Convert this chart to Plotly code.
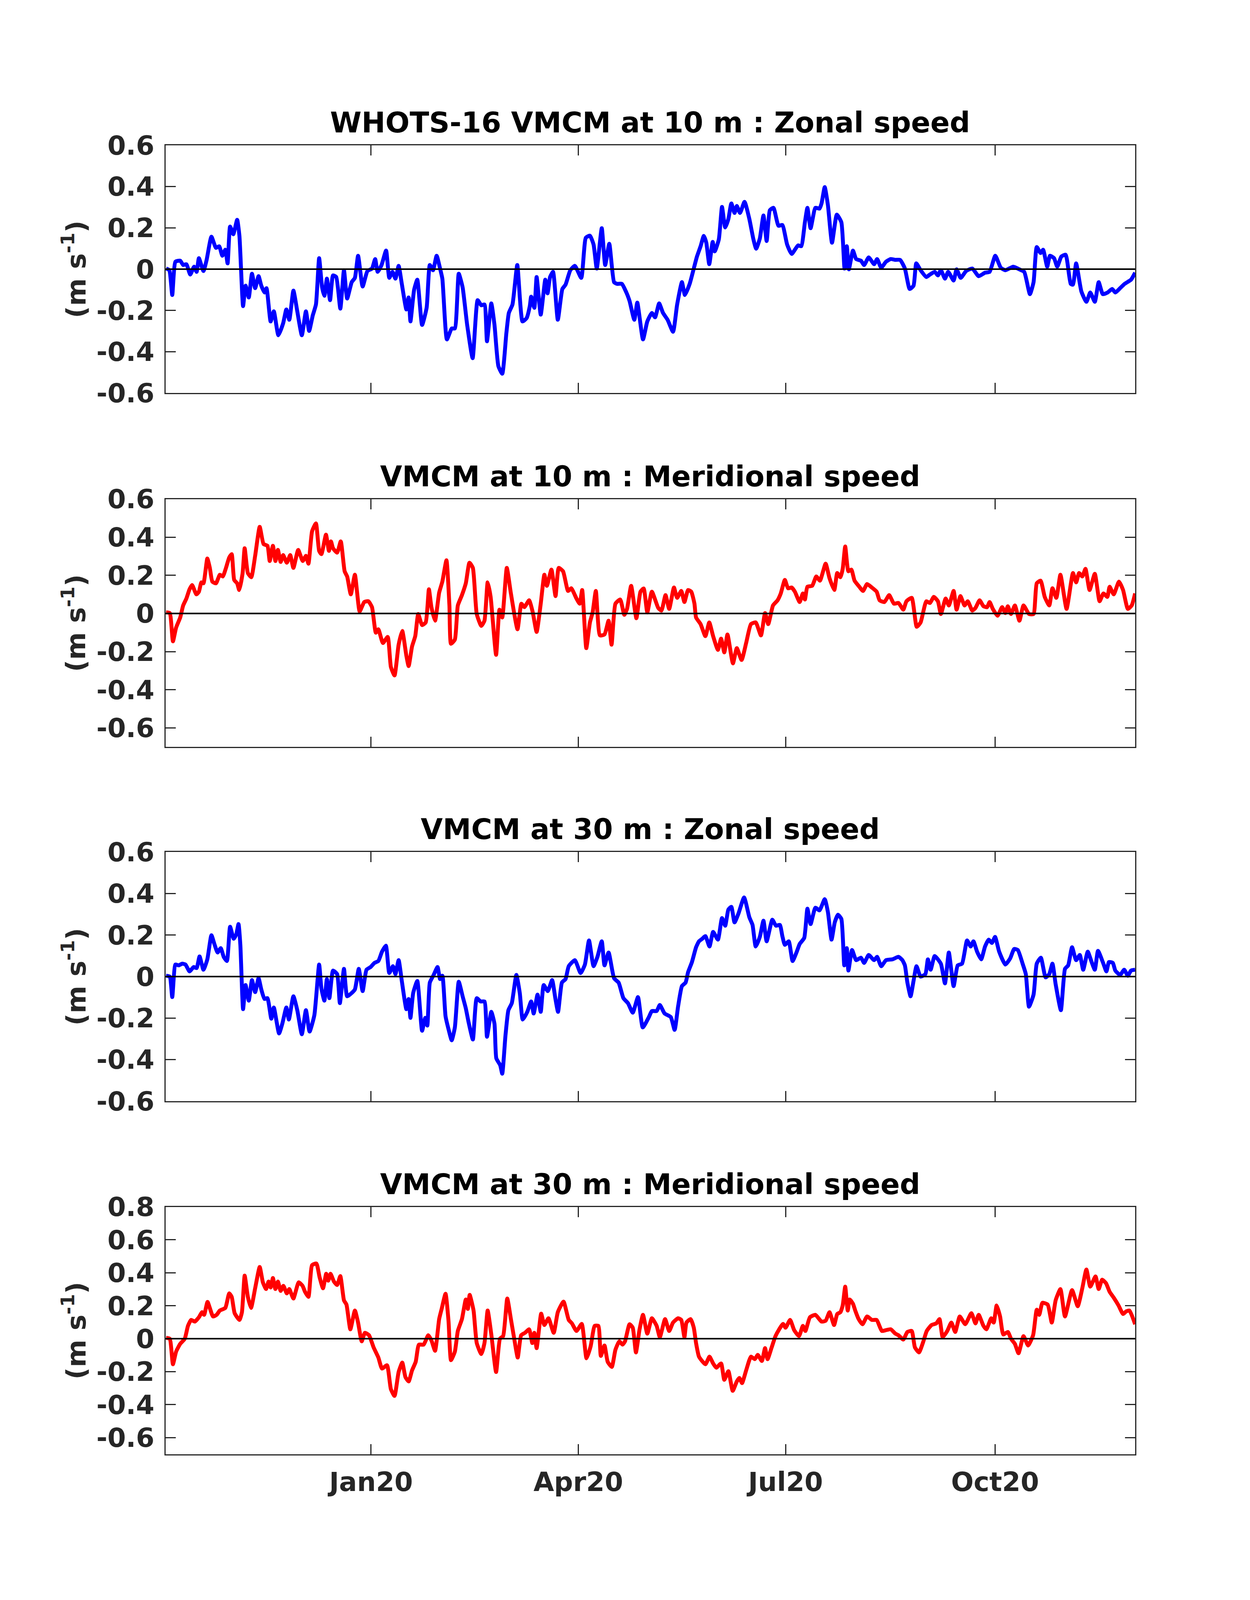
import pandas as pd
import plotly.graph_objects as go

# time axis: days after 2019-10-03
start = pd.Timestamp("2019-10-03")

# --- 10 m zonal speed (m/s)
u10_day = [0, 1.4, 2.7, 4.1, 6.2, 7.5, 8.9, 10.6, 12.3, 13.4, 14.4, 16.4, 17.8, 19.9, 21.9, 23.3, 24.7, 26.0, 27.0, 28.1,
           29.5, 31.2, 32.2, 33.8, 34.9, 36.3, 37.7, 39.1, 40.6, 41.8, 43.2, 44.1, 45.9, 47.3, 49.3, 51.4, 52.8, 54.1, 55.9, 57.6,
           59.6, 61.4, 62.8, 64.4, 65.8, 67.2, 68.5, 69.5, 70.6, 72.0, 73.3, 74.7, 76.5, 78.1, 79.5, 81.5, 82.9, 84.3, 86.3, 88.4,
           90.4, 91.8, 92.9, 94.6, 96.6, 98.0, 99.4, 100.7, 102.1, 103.5, 105.5, 106.5, 107.3, 108.9, 110.3, 112.4, 114.4, 115.8, 117.2, 118.8,
           120.3, 121.3, 123.3, 125.4, 126.8, 128.5, 130.2, 132.2, 134.6, 136.8, 138.4, 139.8, 140.9, 142.8, 144.2, 145.9, 147.6, 149.4, 150.5, 152.1,
           154.2, 156.5, 158.3, 159.7, 160.3, 161.7, 162.7, 164.5, 166.5, 167.5, 168.6, 169.9, 172.0, 174.0, 175.4, 177.5, 179.5, 182.3, 184.3, 186.1,
           187.7, 189.1, 191.3, 192.8, 194.6, 196.7, 198.0, 200.1, 202.1, 203.5, 205.6, 206.9, 209.4, 211.3, 213.3, 214.7, 216.5, 218.2, 220.2, 222.6,
           224.4, 226.5, 227.8, 229.9, 231.7, 233.1, 234.7, 236.1, 237.2, 238.5, 240.0, 240.9, 242.7, 244.1, 245.5, 246.9, 248.2, 249.6, 250.6, 252.0,
           254.0, 256.1, 257.9, 259.1, 260.7, 262.3, 263.7, 265.1, 266.7, 268.9, 270.6, 272.7, 274.7, 277.5, 278.9, 280.5, 281.6, 283.0, 285.1, 286.9,
           287.8, 289.2, 290.6, 292.4, 294.5, 296.5, 297.9, 298.9, 299.8, 301.6, 303.0, 305.1, 306.5, 308.5, 310.9, 312.2, 314.0, 316.1, 318.2, 320.2,
           322.3, 324.4, 326.5, 328.2, 329.4, 331.3, 333.8, 335.4, 337.5, 338.9, 340.2, 342.0, 343.4, 345.8, 347.1, 348.9, 351.3, 354.0, 356.8, 359.6,
           361.6, 364.1, 366.5, 368.5, 372.0, 374.7, 376.8, 379.3, 380.9, 382.3, 384.0, 385.1, 386.9, 388.1, 389.9, 391.3, 393.1, 395.0, 397.2, 398.2,
           399.6, 401.9, 404.1, 405.8, 407.8, 409.5, 411.3, 413.4, 415.4, 416.8, 418.9, 420.9, 423.7, 425.5]
u10_val = [0.003, -0.005, -0.125, 0.036, 0.041, 0.02, 0.024, -0.026, 0.012, -0.013, 0.053, -0.009, 0.045, 0.157, 0.103, 0.111, 0.065, 0.094, 0.028, 0.206,
           0.169, 0.239, 0.161, -0.179, -0.08, -0.137, -0.022, -0.092, -0.034, -0.08, -0.113, -0.092, -0.253, -0.204, -0.32, -0.262, -0.195, -0.245, -0.104, -0.204,
           -0.32, -0.204, -0.299, -0.224, -0.171, 0.053, -0.088, -0.129, -0.046, -0.15, -0.03, -0.038, -0.191, -0.005, -0.142, -0.063, -0.042, 0.065, -0.084, -0.009,
           0.003, 0.049, -0.013, 0.02, 0.09, -0.042, -0.013, -0.046, 0.016, -0.071, -0.195, -0.137, -0.253, -0.1, -0.051, -0.27, -0.187, 0.02, -0.005, 0.065,
           0.003, -0.046, -0.34, -0.287, -0.287, -0.022, -0.088, -0.27, -0.431, -0.15, -0.175, -0.171, -0.349, -0.166, -0.27, -0.469, -0.506, -0.311, -0.212, -0.171,
           0.02, -0.253, -0.237, -0.179, -0.133, -0.187, -0.038, -0.22, -0.051, -0.117, -0.038, -0.013, -0.245, -0.096, -0.075, -0.005, 0.016, -0.042, 0.152, 0.162,
           0.119, 0.003, 0.198, 0.02, 0.123, -0.063, -0.071, -0.071, -0.113, -0.154, -0.245, -0.162, -0.34, -0.253, -0.212, -0.233, -0.166, -0.212, -0.245, -0.303,
           -0.171, -0.063, -0.125, -0.071, 0.003, 0.061, 0.111, 0.161, 0.128, 0.024, 0.132, 0.086, 0.144, 0.301, 0.202, 0.243, 0.318, 0.272, 0.306, 0.272,
           0.326, 0.243, 0.144, 0.099, 0.148, 0.26, 0.136, 0.285, 0.297, 0.21, 0.214, 0.119, 0.074, 0.115, 0.111, 0.227, 0.297, 0.198, 0.297, 0.293,
           0.318, 0.397, 0.31, 0.128, 0.264, 0.227, 0.003, 0.111, -0.001, 0.09, 0.049, 0.041, 0.02, 0.057, 0.024, 0.049, 0.007, 0.036, 0.049, 0.045,
           0.045, 0.003, -0.096, -0.08, 0.028, -0.005, -0.038, -0.026, -0.013, -0.03, -0.005, -0.046, -0.013, -0.055, -0.001, -0.042, -0.009, 0.003, -0.034, -0.017,
           -0.013, 0.065, 0.007, -0.005, 0.012, -0.001, -0.013, -0.121, -0.063, 0.107, 0.078, 0.094, 0.012, 0.065, 0.053, 0.012, 0.061, 0.07, -0.071, -0.075,
           0.028, -0.108, -0.158, -0.113, -0.158, -0.063, -0.121, -0.113, -0.096, -0.113, -0.092, -0.071, -0.051, -0.017]

# --- 10 m meridional speed (m/s)
v10_day = [0, 1.6, 3.0, 4.4, 6.2, 7.5, 8.9, 10.3, 11.4, 13.3, 14.4, 15.5, 16.4, 18.1, 19.2, 20.3, 21.9, 23.6, 24.9, 26.3,
           27.7, 28.8, 29.9, 31.2, 32.1, 33.6, 34.5, 35.9, 37.4, 39.1, 41.1, 42.8, 44.5, 45.5, 46.9, 48.0, 49.1, 50.3, 51.4, 53.0,
           54.5, 55.9, 58.0, 60.0, 61.4, 62.5, 64.1, 65.8, 67.2, 68.2, 70.2, 71.5, 72.4, 73.3, 75.1, 76.7, 78.4, 79.5, 81.1, 82.9,
           85.0, 87.0, 88.8, 90.4, 92.1, 93.2, 95.2, 97.3, 98.7, 100.3, 102.1, 103.7, 105.5, 106.5, 108.0, 109.4, 110.7, 112.4, 114.0, 115.4,
           116.5, 118.1, 119.9, 121.3, 123.1, 124.4, 125.1, 126.8, 128.1, 129.9, 131.6, 133.2, 134.7, 136.4, 138.4, 139.8, 141.2, 142.5, 144.9, 146.4,
           147.6, 149.6, 151.4, 154.3, 156.0, 157.3, 159.4, 161.0, 162.7, 164.5, 166.1, 167.2, 169.2, 171.0, 172.4, 174.3, 176.5, 177.9, 180.2, 181.6,
           182.7, 184.5, 186.1, 187.3, 188.7, 190.5, 192.5, 194.3, 195.6, 197.3, 199.4, 201.2, 202.4, 204.2, 206.5, 208.3, 209.7, 211.3, 213.3, 216.1,
           217.5, 219.3, 220.9, 223.0, 224.4, 226.2, 227.6, 229.2, 230.6, 232.0, 232.7, 234.7, 236.8, 238.5, 240.2, 242.3, 243.7, 245.1, 246.5, 248.9,
           250.6, 252.7, 254.7, 256.8, 258.9, 261.2, 263.0, 264.4, 266.5, 268.5, 269.9, 271.7, 273.1, 274.7, 276.1, 278.2, 279.6, 280.5, 281.6, 283.7,
           285.5, 287.1, 289.6, 291.3, 293.4, 294.7, 296.1, 297.1, 298.2, 299.6, 300.9, 302.3, 304.4, 306.0, 307.8, 309.9, 312.0, 313.3, 315.4, 317.5,
           319.6, 321.6, 323.7, 325.1, 327.4, 329.6, 331.3, 333.8, 335.4, 337.1, 338.9, 340.2, 342.3, 343.7, 345.8, 347.1, 348.8, 350.6, 352.0, 354.0,
           355.4, 357.2, 358.9, 360.5, 361.6, 363.0, 365.1, 367.1, 368.5, 369.6, 371.0, 372.7, 374.7, 376.5, 378.9, 380.9, 382.3, 384.0, 385.8, 387.8,
           389.2, 390.9, 392.7, 395.4, 398.2, 399.6, 400.9, 402.3, 403.7, 405.5, 407.8, 409.9, 411.6, 413.3, 414.3, 416.1, 418.4, 420.2, 422.3, 424.0,
           425.5]
v10_val = [0.006, 0.002, -0.146, -0.074, -0.021, 0.042, 0.078, 0.127, 0.149, 0.1, 0.114, 0.163, 0.158, 0.288, 0.239, 0.167, 0.158, 0.203, 0.194, 0.239,
           0.293, 0.311, 0.176, 0.158, 0.123, 0.212, 0.342, 0.212, 0.19, 0.302, 0.454, 0.364, 0.355, 0.275, 0.355, 0.275, 0.333, 0.27, 0.306, 0.266,
           0.306, 0.239, 0.333, 0.275, 0.302, 0.261, 0.431, 0.472, 0.328, 0.311, 0.413, 0.328, 0.378, 0.342, 0.319, 0.378, 0.221, 0.194, 0.1, 0.203,
           0.011, 0.06, 0.064, 0.033, -0.101, -0.083, -0.155, -0.123, -0.28, -0.325, -0.164, -0.092, -0.222, -0.276, -0.173, -0.119, -0.003, -0.061, -0.047, 0.127,
           0.033, -0.038, 0.109, 0.167, 0.279, 0.042, -0.159, -0.137, 0.042, 0.096, 0.158, 0.266, 0.239, -0.003, -0.065, -0.038, 0.163, 0.087, -0.217, 0.02,
           -0.021, 0.239, 0.105, -0.083, 0.051, 0.033, 0.069, 0.006, -0.097, 0.051, 0.203, 0.145, 0.23, 0.091, 0.239, 0.221, 0.118, 0.132, 0.078, 0.051,
           0.123, -0.182, -0.047, 0.006, 0.118, -0.115, -0.11, -0.038, -0.164, 0.051, 0.073, -0.007, 0.024, 0.145, -0.025, 0.114, 0.131, 0.006, 0.114, 0.029,
           0.015, 0.096, 0.024, 0.136, 0.082, 0.118, 0.06, 0.123, 0.114, 0.051, -0.021, -0.056, -0.119, -0.047, -0.119, -0.191, -0.132, -0.204, -0.11, -0.262,
           -0.182, -0.244, -0.155, -0.056, -0.047, -0.115, 0.002, -0.056, 0.042, 0.069, 0.105, 0.176, 0.132, 0.136, 0.114, 0.06, 0.105, 0.073, 0.14, 0.145,
           0.194, 0.172, 0.261, 0.185, 0.123, 0.212, 0.19, 0.234, 0.351, 0.221, 0.23, 0.172, 0.14, 0.118, 0.154, 0.136, 0.114, 0.069, 0.06, 0.096,
           0.051, 0.055, 0.02, 0.064, 0.082, -0.07, -0.047, 0.064, 0.055, 0.087, 0.064, -0.003, 0.078, 0.042, 0.118, 0.02, 0.091, 0.042, 0.064, 0.015,
           0.029, 0.069, 0.038, 0.033, 0.06, 0.024, -0.012, 0.033, 0.002, 0.038, -0.003, 0.042, -0.038, 0.042, -0.003, -0.003, 0.158, 0.172, 0.087, 0.042,
           0.132, 0.082, 0.203, 0.024, 0.212, 0.163, 0.212, 0.194, 0.234, 0.123, 0.208, 0.064, 0.105, 0.087, 0.14, 0.1, 0.167, 0.123, 0.024, 0.042,
           0.105]

# --- 30 m zonal speed (m/s)
u30_day = [0, 1.6, 2.7, 4.1, 5.5, 7.1, 8.5, 10.3, 12.1, 13.4, 14.7, 16.4, 18.1, 19.9, 21.2, 22.6, 24.0, 25.3, 26.7, 28.1,
           29.7, 30.8, 31.8, 32.6, 33.8, 34.9, 36.3, 37.7, 39.1, 40.6, 41.8, 43.2, 44.5, 46.2, 47.3, 49.6, 51.1, 52.8, 53.9, 55.9,
           57.6, 59.6, 61.4, 63.0, 65.1, 67.2, 68.2, 69.5, 70.6, 71.7, 73.3, 75.1, 76.3, 78.1, 79.5, 81.5, 82.9, 84.6, 86.3, 88.0,
           89.8, 91.5, 93.2, 94.8, 96.5, 98.0, 99.6, 100.7, 102.1, 103.5, 105.5, 106.5, 107.3, 108.5, 110.3, 112.4, 113.8, 114.7, 115.8, 117.5,
           119.2, 120.3, 121.3, 122.7, 124.0, 125.4, 126.8, 128.5, 130.2, 131.6, 132.9, 134.7, 136.4, 138.1, 139.8, 140.9, 142.8, 144.2, 145.0, 146.7,
           147.6, 149.0, 150.3, 151.8, 153.8, 155.3, 156.6, 158.6, 160.3, 161.4, 163.1, 164.5, 165.8, 167.6, 169.5, 170.9, 172.1, 173.8, 175.4, 176.8,
           179.5, 182.0, 183.9, 185.7, 187.7, 189.4, 191.3, 192.5, 194.3, 196.7, 198.7, 200.8, 202.8, 204.9, 207.2, 209.3, 212.0, 213.3, 215.4, 216.8,
           218.9, 221.6, 223.3, 224.8, 226.5, 228.1, 229.2, 230.9, 232.7, 234.0, 235.4, 236.8, 238.6, 240.2, 242.3, 244.1, 245.5, 246.9, 248.2, 249.6,
           251.3, 253.8, 256.1, 257.5, 258.9, 260.7, 262.3, 263.7, 266.2, 267.8, 269.5, 270.6, 271.7, 273.4, 275.1, 276.8, 278.2, 280.2, 281.6, 283.0,
           285.1, 286.9, 289.2, 290.6, 292.2, 293.6, 295.0, 296.5, 297.8, 298.9, 299.6, 301.2, 303.0, 305.1, 306.5, 308.5, 310.9, 312.2, 314.0, 316.1,
           318.9, 321.6, 323.3, 324.4, 325.5, 326.9, 328.2, 329.5, 331.3, 333.4, 334.5, 335.7, 337.5, 340.2, 342.0, 343.7, 345.8, 347.6, 349.5, 351.7,
           353.3, 354.5, 356.1, 357.9, 359.6, 361.2, 362.6, 364.0, 365.8, 368.5, 370.6, 372.4, 374.0, 376.1, 377.5, 378.9, 380.9, 382.3, 384.1, 386.2,
           387.8, 389.2, 390.6, 392.9, 394.7, 396.1, 397.8, 399.6, 401.2, 402.7, 404.7, 406.4, 407.8, 409.2, 411.3, 412.9, 414.0, 415.7, 416.8, 418.9,
           420.7, 422.3, 423.7, 425.5]
u30_val = [0.004, 0, -0.099, 0.058, 0.054, 0.062, 0.058, 0.025, 0.046, 0.041, 0.097, 0.033, 0.083, 0.199, 0.157, 0.116, 0.137, 0.095, 0.075, 0.24,
           0.182, 0.203, 0.253, 0.153, -0.157, -0.041, -0.116, -0.017, -0.075, -0.008, -0.062, -0.108, -0.104, -0.203, -0.149, -0.274, -0.224, -0.149, -0.207, -0.095,
           -0.162, -0.278, -0.162, -0.265, -0.186, 0.058, -0.058, -0.116, -0.012, -0.104, 0.029, 0.012, -0.128, 0.037, -0.095, -0.079, -0.062, 0.037, -0.07, 0.033,
           0.046, 0.066, 0.075, 0.12, 0.149, 0.017, 0.05, 0.012, 0.079, -0.021, -0.157, -0.108, -0.199, -0.079, -0.021, -0.261, -0.199, -0.236, -0.029, 0.008,
           0.046, -0.012, 0.004, -0.191, -0.253, -0.307, -0.245, -0.025, -0.095, -0.153, -0.224, -0.303, -0.104, -0.12, -0.12, -0.29, -0.17, -0.228, -0.394, -0.427,
           -0.468, -0.286, -0.162, -0.128, 0.008, -0.079, -0.207, -0.17, -0.12, -0.178, -0.087, -0.17, -0.041, -0.07, -0.017, -0.104, -0.17, -0.029, -0.012, 0.05,
           0.079, 0.017, 0.058, 0.174, 0.05, 0.095, 0.17, 0.054, 0.116, -0.008, -0.029, -0.104, -0.128, -0.174, -0.099, -0.245, -0.195, -0.166, -0.166, -0.137,
           -0.178, -0.195, -0.257, -0.145, -0.046, -0.029, 0.021, 0.07, 0.141, 0.17, 0.182, 0.195, 0.145, 0.215, 0.178, 0.282, 0.245, 0.323, 0.336, 0.261,
           0.303, 0.381, 0.286, 0.249, 0.145, 0.191, 0.269, 0.17, 0.274, 0.245, 0.249, 0.195, 0.153, 0.17, 0.075, 0.116, 0.157, 0.186, 0.327, 0.253,
           0.332, 0.319, 0.373, 0.311, 0.178, 0.261, 0.298, 0.278, 0.054, 0.137, 0.029, 0.128, 0.079, 0.091, 0.066, 0.104, 0.079, 0.095, 0.05, 0.079,
           0.083, 0.095, 0.079, 0.054, -0.029, -0.095, -0.021, 0.05, 0, 0.012, 0.083, 0.033, 0.099, 0.062, -0.033, 0.116, -0.046, 0.054, 0.062, 0.174,
           0.145, 0.17, 0.12, 0.083, 0.145, 0.178, 0.162, 0.191, 0.12, 0.058, 0.087, 0.133, 0.128, 0.062, 0.012, -0.145, -0.087, 0.062, 0.091, -0.004,
           0.012, 0.062, -0.037, -0.162, 0.037, 0.054, 0.141, 0.079, 0.104, 0.033, 0.12, 0.07, 0.033, 0.124, 0.07, 0.025, 0.07, 0.066, 0.029, 0.008,
           0.033, 0.004, 0.029, 0.033]

# --- 30 m meridional speed (m/s)
v30_day = [0, 1.6, 3.0, 4.4, 6.2, 8.2, 9.6, 11.0, 12.6, 14.4, 15.8, 16.7, 18.2, 20.6, 22.2, 23.6, 26.0, 27.7, 28.8, 30.1,
           32.2, 33.3, 34.5, 35.9, 37.3, 39.1, 41.1, 42.5, 43.9, 45.0, 45.9, 46.9, 48.0, 49.1, 50.3, 51.5, 53.0, 54.1, 55.9, 58.2,
           59.9, 61.0, 62.5, 64.1, 66.0, 67.4, 68.9, 70.3, 71.2, 72.2, 73.7, 75.1, 76.5, 78.1, 79.2, 80.9, 82.9, 84.3, 85.9, 87.3,
           89.1, 91.1, 93.2, 94.8, 97.0, 98.7, 100.3, 102.1, 103.7, 105.1, 106.5, 108.0, 109.6, 111.0, 113.1, 115.1, 116.5, 118.1, 119.9, 121.0,
           122.7, 124.0, 125.1, 126.8, 128.1, 129.9, 131.6, 132.5, 133.3, 135.0, 136.4, 138.4, 139.8, 141.2, 142.8, 144.9, 146.6, 148.0, 149.8, 151.4,
           152.8, 154.4, 155.9, 157.6, 159.4, 160.8, 161.7, 162.7, 164.7, 166.1, 167.9, 170.2, 172.0, 174.5, 176.8, 178.2, 180.2, 182.5, 184.6, 186.4,
           188.2, 189.8, 190.9, 192.5, 193.9, 195.7, 197.3, 199.0, 200.4, 201.5, 203.5, 204.9, 206.3, 207.9, 209.4, 211.3, 213.3, 215.4, 216.8, 219.1,
           220.9, 222.6, 224.8, 226.2, 227.6, 228.5, 230.3, 231.7, 232.7, 234.0, 236.8, 238.6, 240.2, 241.6, 243.7, 245.1, 246.9, 248.8, 250.6, 251.7,
           252.9, 254.7, 256.8, 258.5, 259.8, 261.6, 263.0, 264.1, 265.8, 267.6, 269.2, 270.9, 272.0, 274.0, 275.8, 277.9, 279.6, 280.7, 282.7, 285.1,
           287.8, 289.6, 291.3, 293.3, 294.7, 296.1, 297.1, 298.2, 299.3, 300.2, 301.6, 302.6, 304.1, 305.8, 307.8, 309.9, 312.0, 314.3, 316.1, 318.2,
           320.2, 321.6, 323.7, 325.5, 327.4, 328.8, 330.6, 332.4, 334.0, 336.1, 338.2, 339.6, 341.0, 343.0, 344.8, 346.5, 348.5, 350.9, 353.6, 355.4,
           356.8, 358.9, 360.2, 362.3, 363.4, 364.7, 366.2, 367.6, 369.6, 371.0, 372.7, 374.3, 376.5, 378.5, 380.7, 382.3, 383.4, 384.8, 387.1, 388.9,
           390.6, 392.7, 394.7, 397.8, 400.3, 402.3, 404.1, 405.8, 408.1, 409.5, 411.0, 412.7, 414.3, 416.1, 418.2, 420.2, 421.6, 423.0, 425.5]
v30_val = [0.005, 0, -0.155, -0.078, -0.031, 0, 0.078, 0.114, 0.104, 0.13, 0.161, 0.145, 0.223, 0.135, 0.145, 0.171, 0.187, 0.275, 0.254, 0.155,
           0.114, 0.161, 0.383, 0.254, 0.187, 0.306, 0.435, 0.342, 0.301, 0.347, 0.311, 0.368, 0.301, 0.347, 0.29, 0.321, 0.275, 0.301, 0.244, 0.342,
           0.321, 0.285, 0.254, 0.446, 0.456, 0.373, 0.306, 0.394, 0.352, 0.394, 0.347, 0.326, 0.38, 0.233, 0.207, 0.057, 0.171, 0.098, -0.016, 0.036,
           0.021, -0.052, -0.114, -0.181, -0.161, -0.306, -0.347, -0.202, -0.145, -0.233, -0.259, -0.192, -0.14, -0.036, -0.036, 0.021, -0.01, -0.073, 0.119, 0.181,
           0.273, 0.109, -0.13, -0.078, 0.047, 0.119, 0.238, 0.181, 0.266, 0.171, -0.026, -0.093, -0.026, 0.171, 0.026, -0.202, 0, 0.016, 0.244, 0.119,
           0.005, -0.114, 0.021, 0.036, 0.057, -0.026, 0.036, -0.057, 0.152, 0.083, 0.124, 0.036, 0.161, 0.225, 0.114, 0.093, 0.047, 0.09, -0.119, -0.047,
           0.078, 0.078, -0.104, -0.041, -0.14, -0.171, -0.067, -0.016, -0.036, -0.016, 0.088, 0.067, -0.083, 0.057, 0.145, 0.031, 0.124, 0.078, 0.01, 0.119,
           0.047, 0.098, 0.124, 0.114, 0.01, 0.098, 0.119, 0.067, -0.026, -0.109, -0.155, -0.109, -0.15, -0.176, -0.15, -0.249, -0.197, -0.316, -0.259, -0.238,
           -0.269, -0.192, -0.109, -0.124, -0.098, -0.135, -0.057, -0.124, -0.057, 0.016, 0.057, 0.09, 0.067, 0.114, 0.052, 0.016, 0.078, 0.047, 0.13, 0.145,
           0.104, 0.109, 0.161, 0.083, 0.15, 0.161, 0.202, 0.316, 0.171, 0.238, 0.212, 0.171, 0.119, 0.088, 0.135, 0.114, 0.114, 0.047, 0.052, 0.057,
           0.031, 0.021, -0.005, 0.041, 0.047, -0.052, -0.083, -0.021, 0.047, 0.083, 0.093, 0.119, 0.01, 0.047, 0.098, 0.041, 0.135, 0.088, 0.155, 0.093,
           0.145, 0.078, 0.057, 0.124, 0.098, 0.202, 0.135, 0.026, 0.041, 0, -0.031, -0.088, 0.016, -0.041, 0.021, 0.176, 0.145, 0.218, 0.207, 0.098,
           0.233, 0.301, 0.135, 0.295, 0.197, 0.306, 0.42, 0.316, 0.378, 0.301, 0.358, 0.337, 0.285, 0.249, 0.202, 0.15, 0.166, 0.171, 0.088]

titles = ["WHOTS-16 VMCM at 10 m : Zonal speed",
          "VMCM at 10 m : Meridional speed",
          "VMCM at 30 m : Zonal speed",
          "VMCM at 30 m : Meridional speed"]
colors = ["#0000ff", "#ff0000", "#0000ff", "#ff0000"]
series = [(u10_day, u10_val), (v10_day, v10_val), (u30_day, u30_val), (v30_day, v30_val)]

y_ranges = [[-0.6, 0.6], [-0.7, 0.6], [-0.6, 0.6], [-0.7, 0.8]]
y_ticks = [[-0.6, -0.4, -0.2, 0, 0.2, 0.4, 0.6],
           [-0.6, -0.4, -0.2, 0, 0.2, 0.4, 0.6],
           [-0.6, -0.4, -0.2, 0, 0.2, 0.4, 0.6],
           [-0.6, -0.4, -0.2, 0, 0.2, 0.4, 0.6, 0.8]]

x_tick_dates = ["2020-01-01", "2020-04-01", "2020-07-01", "2020-10-01"]
x_tick_text = ["Jan20", "Apr20", "Jul20", "Oct20"]
x_range = ["2019-10-02 19:00", "2020-12-01 12:00"]

# panel positions (paper fractions)
x_dom = [0.130, 0.9056]
y_doms = [[0.7672, 0.9212], [0.5474, 0.7014], [0.3274, 0.4821], [0.1081, 0.2617]]

FONT = "DejaVu Sans"
AXCOL = "#262626"

fig = go.Figure()
annotations = []
shapes = []

for i, ((days, vals), col) in enumerate(zip(series, colors)):
    n = i + 1
    xs = start + pd.to_timedelta(days, unit="D")
    fig.add_trace(go.Scatter(x=xs, y=vals, mode="lines",
                             line=dict(color=col, width=10, shape="spline", smoothing=0.5),
                             xaxis="x" if n == 1 else f"x{n}",
                             yaxis="y" if n == 1 else f"y{n}",
                             showlegend=False, hoverinfo="skip"))

    xkey = "xaxis" if n == 1 else f"xaxis{n}"
    ykey = "yaxis" if n == 1 else f"yaxis{n}"
    xref = "x" if n == 1 else f"x{n}"
    yref = "y" if n == 1 else f"y{n}"

    fig.layout[xkey] = dict(
        domain=x_dom, anchor=yref, range=x_range, type="date",
        tickvals=x_tick_dates, ticktext=x_tick_text,
        showticklabels=(n == 4),
        ticks="inside", ticklen=26, tickwidth=3, tickcolor=AXCOL,
        showline=True, linecolor=AXCOL, linewidth=3, mirror="ticks",
        showgrid=False, zeroline=False, ticklabelstandoff=10,
        tickfont=dict(family=FONT, size=68, color=AXCOL, weight="bold"),
    )
    fig.layout[ykey] = dict(
        domain=y_doms[i], anchor=xref, range=y_ranges[i],
        tickvals=y_ticks[i], ticktext=[("%g" % v) for v in y_ticks[i]],
        ticks="inside", ticklen=26, tickwidth=3, tickcolor=AXCOL,
        showline=True, linecolor=AXCOL, linewidth=3, mirror="ticks",
        showgrid=False, zeroline=False, ticklabelstandoff=12,
        tickfont=dict(family=FONT, size=68, color=AXCOL, weight="bold"),
    )

    # zero reference line
    shapes.append(dict(type="line", xref=f"{xref} domain", yref=yref,
                       x0=0, x1=1, y0=0, y1=0, layer="above",
                       line=dict(color="black", width=4)))

    annotations.append(dict(text=titles[i], xref="paper", yref="paper",
                            x=(x_dom[0] + x_dom[1]) / 2, y=y_doms[i][1],
                            xanchor="center", yanchor="bottom", yshift=14,
                            showarrow=False,
                            font=dict(family=FONT, size=73, color="black", weight="bold")))
    annotations.append(dict(text="(m s<sup>-1</sup>)", xref="paper", yref="paper",
                            x=0.057, y=(y_doms[i][0] + y_doms[i][1]) / 2,
                            xanchor="center", yanchor="middle", textangle=-90,
                            showarrow=False,
                            font=dict(family=FONT, size=68, color=AXCOL, weight="bold")))

fig.update_layout(
    width=3200, height=4200, autosize=False,
    margin=dict(l=0, r=0, t=0, b=0),
    paper_bgcolor="white", plot_bgcolor="white",
    annotations=annotations, shapes=shapes,
)

fig.write_html("out.html")
